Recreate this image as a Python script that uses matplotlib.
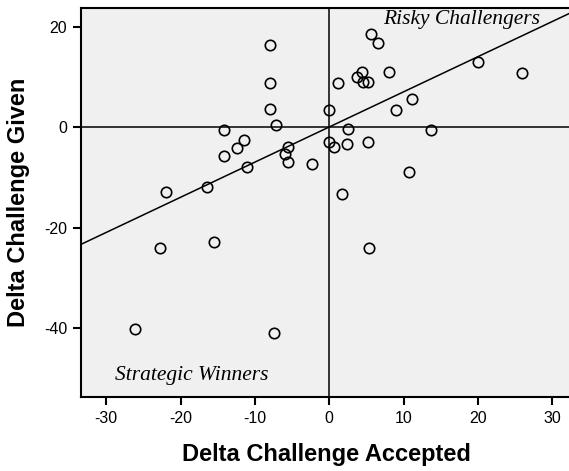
import matplotlib.pyplot as plt
import numpy as np

# change in challenges accepted vs. change in challenges given, one point per player
delta_accepted = [
    -8.0, -8.0, -8.0, -7.1,
    -14.2, -11.5, -12.4, -14.2, -11.0, -5.5, -5.9, -5.6, -2.3, -16.4, -22.0,
    -22.8, -15.5, -26.2, -7.4,
    0.0, 1.2, 5.65, 6.6, 3.7, 4.4, 4.5, 5.2, 8.0, 11.1, 9.0, 13.7, 2.5,
    20.0, 26.0, 0.0, 0.7, 2.4, 5.2, 10.7, 1.7, 5.4,
]
delta_given = [
    16.45, 8.96, 3.6, 0.46,
    -0.54, -2.53, -4.06, -5.66, -7.97, -3.86, -5.3, -6.85, -7.25, -11.8, -12.95,
    -24.1, -22.9, -40.2, -40.9,
    3.45, 8.96, 18.7, 16.9, 9.96, 10.96, 9.0, 9.1, 10.96, 5.58, 3.45, -0.54, -0.4,
    12.95, 10.76, -2.99, -3.98, -3.26, -2.99, -8.96, -13.3, -24.1,
]
x_ticks = [-30, -20, -10, 0, 10, 20, 30]
y_ticks = [-40, -20, 0, 20]

# linear fit reported with the chart
fit_intercept = 0.1
fit_slope = 0.70

plt.rcParams['font.family'] = ['Liberation Sans', 'DejaVu Sans']
plt.rcParams['axes.unicode_minus'] = False

fig = plt.figure(figsize=(5.69, 4.71), dpi=100)
ax = fig.add_axes([0.1424, 0.157, 0.862, 0.826])
ax.set_facecolor('#f0f0f0')

ax.set_xlim(-33.4, 32.6)
ax.set_ylim(-53.7, 23.8)

# quadrant lines through the origin
ax.axhline(0, color='black', lw=1.1, zorder=1)
ax.axvline(0, color='black', lw=1.1, zorder=1)

ax.axline((0, fit_intercept), slope=fit_slope, color='black', lw=1.1, zorder=2)

ax.plot(delta_accepted, delta_given, 'o', ms=7.5, mfc='none', mec='black',
        mew=1.2, zorder=3)

ax.text(7.3, 21.5, 'Risky Challengers', family='Liberation Serif',
        style='italic', fontsize=15.5, ha='left', va='center')
ax.text(-28.8, -49.4, 'Strategic Winners', family='Liberation Serif',
        style='italic', fontsize=15.5, ha='left', va='center')

ax.set_xticks(x_ticks)
ax.set_yticks(y_ticks)
ax.tick_params(direction='out', length=6, width=1.5, labelsize=11.5, pad=4)
for s in ax.spines.values():
    s.set_linewidth(1.5)

ax.set_xlabel('Delta Challenge Accepted', fontsize=17, fontweight='bold',
              labelpad=12)
ax.set_ylabel('Delta Challenge Given', fontsize=17, fontweight='bold',
              labelpad=10)

fig.savefig('out.png', dpi=100)
